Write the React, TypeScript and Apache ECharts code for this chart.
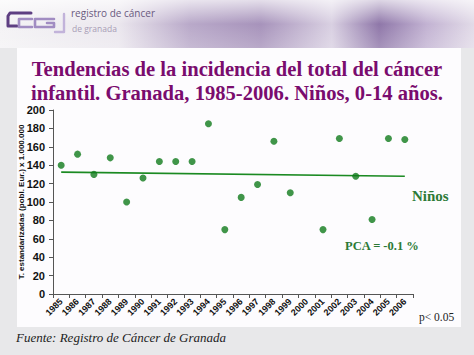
import React, { useEffect, useRef } from "react";
import * as echarts from "echarts";

const years = ["1985","1986","1987","1988","1989","1990","1991","1992","1993","1994","1995","1996","1997","1998","1999","2000","2001","2002","2003","2004","2005","2006"];
const rates: (number | null)[] = [140,152,130,148,100,126,144,144,144,185,70,105,119,166,110,null,70,169,128,81,169,168];
const trendYears = ["1985","2006"];
const trendValues = [132.5,128];
const yTicks = { min: 0, max: 200, interval: 20 };

const titleText = "Tendencias de la incidencia del total del cáncer\ninfantil. Granada, 1985-2006. Niños, 0-14 años.";
const yAxisName = "T. estandarizadas (pobl. Eur.) x 1.000.000";

export default function App() {
  const ref = useRef<HTMLDivElement>(null);
  useEffect(() => {
    if (!ref.current) return;
    const chart = echarts.init(ref.current, null, { renderer: "svg" });
    const green = "#107a1c";
    const serif = "'Liberation Serif', 'Times New Roman', serif";
    const sans = "'Liberation Sans', Arial, sans-serif";
    const logoStroke = (points: number[][], color: string, w = 2.6) => ({
      type: "polyline",
      shape: { points },
      style: { stroke: color, lineWidth: w, fill: null, lineJoin: "round", lineCap: "round" },
      z: 2,
    });
    chart.setOption({
      animation: false,
      backgroundColor: "#e8e8ea",
      title: {
        text: titleText,
        left: "center",
        top: 52,
        textStyle: { fontFamily: serif, fontWeight: "bold", fontSize: 20.6, color: "#7a0c6e", lineHeight: 24 },
      },
      grid: { left: 53, right: 61, top: 110, bottom: 61, containLabel: false },
      xAxis: {
        type: "category",
        data: years,
        boundaryGap: true,
        axisLine: { lineStyle: { color: "#555", width: 1 } },
        axisTick: { show: true, length: 4, lineStyle: { color: "#555" } },
        axisLabel: { rotate: 45, interval: 0, fontFamily: sans, fontWeight: "bold", fontSize: 9, color: "#111", margin: 6 },
        splitLine: { show: false },
      },
      yAxis: {
        type: "value",
        min: yTicks.min,
        max: yTicks.max,
        interval: yTicks.interval,
        name: yAxisName,
        nameLocation: "middle",
        nameGap: 28,
        nameMoveOverlap: false,
        nameTextStyle: { fontFamily: sans, fontWeight: "bold", fontSize: 8, color: "#111" },
        axisLine: { show: true, lineStyle: { color: "#555", width: 1 } },
        axisTick: { show: true, length: 4, lineStyle: { color: "#555" } },
        axisLabel: { fontFamily: sans, fontWeight: "bold", fontSize: 11, color: "#111", margin: 8 },
        splitLine: { show: false },
      },
      series: [
        {
          type: "line",
          data: trendYears.map((y, i) => [y, trendValues[i]]),
          symbol: "none",
          lineStyle: { color: "#1b8a22", width: 1.6 },
          z: 2,
        },
        {
          type: "scatter",
          data: rates,
          symbol: "circle",
          symbolSize: 7,
          itemStyle: { color: green },
          z: 3,
        },
      ],
      graphic: [
        {
          type: "rect",
          shape: { x: 0, y: 0, width: 474, height: 48 },
          style: {
            fill: new echarts.graphic.LinearGradient(0, 0, 1, 0, [
              { offset: 0, color: "#f4f3f5" },
              { offset: 0.25, color: "#ebe7ee" },
              { offset: 0.4, color: "#b9a9c9" },
              { offset: 0.55, color: "#a793bb" },
              { offset: 0.7, color: "#d9d0e2" },
              { offset: 0.8, color: "#8f77a9" },
              { offset: 0.9, color: "#c2b2d2" },
              { offset: 1, color: "#e2dbe8" },
            ]),
          },
          z: 0,
        },
        {
          type: "rect",
          shape: { x: 0, y: 0, width: 474, height: 48 },
          style: {
            fill: new echarts.graphic.LinearGradient(0, 0, 0, 1, [
              { offset: 0, color: "rgba(255,255,255,0.7)" },
              { offset: 0.5, color: "rgba(255,255,255,0.0)" },
              { offset: 1, color: "rgba(255,255,255,0.2)" },
            ]),
          },
          z: 0,
        },
        {
          type: "rect",
          shape: { x: 17, y: 48, width: 444, height: 279 },
          style: { fill: "#fdfcfe" },
          z: -1,
        },
        logoStroke([[17, 26], [8, 26], [8, 16], [10, 13], [31, 13]], "#5e3f82", 3),
        logoStroke([[32, 19], [19, 19], [19, 27], [32, 27]], "#a18cc2", 2.6),
        logoStroke([[54, 19], [35, 19], [35, 27], [54, 27], [54, 23], [47, 23]], "#a18cc2", 2.6),
        logoStroke([[64, 14], [64, 32], [55, 32]], "#c2b3da", 2.4),
        {
          type: "text",
          left: 71, top: 8,
          style: { text: "registro de cáncer", font: "10px 'Open Sans', sans-serif", fill: "#6a5a80" },
          z: 2,
        },
        {
          type: "text",
          left: 72, top: 24,
          style: { text: "de granada", font: "8.5px 'Open Sans', sans-serif", fill: "#a89db6" },
          z: 2,
        },
        {
          type: "text",
          left: 412, top: 188,
          style: { text: "Niños", font: `bold 15px ${serif}`, fill: "#2c7a36" },
          z: 4,
        },
        {
          type: "text",
          left: 345, top: 239,
          style: { text: "PCA = -0.1 %", font: `bold 12.5px ${serif}`, fill: "#2c7a36" },
          z: 4,
        },
        {
          type: "text",
          left: 419, top: 311,
          style: { text: "p< 0.05", font: `11.5px ${serif}`, fill: "#222" },
          z: 4,
        },
        {
          type: "text",
          left: 16, top: 331,
          style: { text: "Fuente: Registro de Cáncer de Granada", font: `italic 13px ${serif}`, fill: "#222" },
          z: 4,
        },
      ],
    });
    return () => chart.dispose();
  }, []);
  return <div ref={ref} style={{ position: "fixed", left: 0, top: 0, width: 474, height: 355 }} />;
}
